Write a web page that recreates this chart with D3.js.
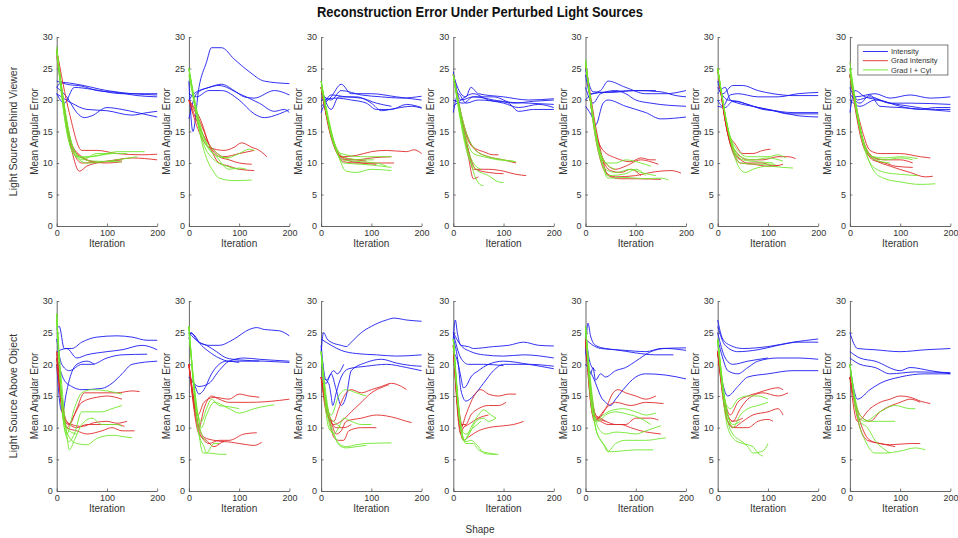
<!DOCTYPE html>
<html><head><meta charset="utf-8">
<script src="https://cdn.jsdelivr.net/npm/d3@7"></script>
<style>body{margin:0;background:#fff}svg{display:block;font-family:"Liberation Sans",Arial,Helvetica,sans-serif}</style>
</head><body><svg id="c" width="958" height="538"></svg>
<script>
// ---------- labels / ticks ----------
const chartTitle = "Reconstruction Error Under Perturbed Light Sources";
const rowLabels = ["Light Source Behind Viewer", "Light Source Above Object"];
const seriesNames = ["Intensity", "Grad Intensity", "Grad I + Cyl"];
const iterTicks = [0, 100, 200];
const errTicks = [0, 5, 10, 15, 20, 25, 30];
const xLabel = "Iteration", yLabel = "Mean Angular Error", shapeLabel = "Shape";

// ---------- data: [iteration, mean angular error] ----------
// Row 1: Light Source Behind Viewer
const behind1_intensity = [
 [[0,22],[10,22.8],[40,22.5],[100,21.5],[150,21],[200,20.8]],
 [[0,23],[20,22.5],[50,22.2],[80,21.5],[120,21.2],[160,20.7],[200,20.5]],
 [[0,21],[15,19.5],[35,22],[70,21.7],[130,21],[200,21]],
 [[0,22],[20,20.5],[40,18],[55,17.2],[70,17.5],[100,18.8],[130,18.5],[160,18],[200,17.3]],
 [[0,21],[30,19.5],[60,18.5],[100,18.3],[150,17.6],[180,18],[200,18.2]]];
const behind1_grad = [
 [[0,28],[25,18],[50,12],[80,12],[120,11.5],[170,11.3],[200,11.4]],
 [[0,28],[25,14],[50,10],[100,10.3],[150,10.8],[200,10.5]],
 [[0,28],[30,12],[45,8.7],[60,9.5],[80,10],[110,10.3],[130,10.5]],
 [[0,28],[30,13],[50,11],[70,10.2],[100,10],[130,10.2]],
 [[0,27],[35,12],[60,10.5],[80,10.2]]];
const behind1_cyl = [
 [[0,28.5],[20,15],[40,11],[70,11],[120,11.8],[175,11.8]],
 [[0,28],[30,13],[50,10.5],[80,11.5],[140,11.5]],
 [[0,27.5],[30,12],[60,10],[120,10.5],[160,11]],
 [[0,28],[25,14],[45,11],[70,10.3],[130,10.2]],
 [[0,28],[35,12],[50,10.8],[80,11.2],[110,11.5]]];

const behind2_intensity = [
 [[0,23],[8,15],[20,22],[35,26],[45,28.3],[65,28.3],[90,26.5],[120,24.5],[150,23],[200,22.6]],
 [[0,20],[10,21],[40,22],[65,22.5],[90,21.5],[110,20.5],[130,20.3],[170,21.5],[200,20.8]],
 [[0,17],[15,21],[40,22],[60,22.3],[100,21],[140,19.5],[170,18.2],[190,18.5],[200,18]],
 [[0,21],[15,20.5],[40,21.5],[65,21.5],[100,20],[130,17.8],[150,17.2],[180,17.8],[200,18.5]]];
const behind2_grad = [
 [[0,20],[20,15],[40,12.5],[70,12],[90,12.5],[105,13.2],[125,12.5],[140,12],[155,11]],
 [[0,20],[25,16],[45,12],[60,10],[80,9.5],[100,9],[130,8.8]],
 [[0,20],[25,16.5],[40,13],[60,11],[80,10.5],[100,10],[125,9.8]],
 [[0,20],[25,15],[50,12],[70,11],[100,11.5],[130,12]]];
const behind2_cyl = [
 [[0,25],[25,15],[50,12],[75,10.8],[100,11.5],[120,12.2],[130,12]],
 [[0,25],[25,14],[50,10.5],[75,9.5],[100,9]],
 [[0,25],[30,12],[50,8.5],[60,7.6],[90,7.2],[125,7.3]],
 [[0,25],[30,14],[55,11],[80,9],[100,9.2],[115,9]],
 [[0,24],[30,13.5],[60,11],[80,10.8]]];

const behind3_intensity = [
 [[0,19],[20,20.5],[40,22.5],[60,21],[100,21],[150,20.5],[200,20]],
 [[0,21],[20,20],[40,21.5],[80,20.8],[120,20.5],[160,20.3],[200,20.6]],
 [[0,22],[20,18.5],[35,20.5],[70,20.5],[100,19.5],[120,18.3],[150,18.7],[180,19],[200,18.7]],
 [[0,20],[30,20.3],[60,20],[90,19.5],[110,18.5],[140,18.5],[170,19.3],[200,18.8]],
 [[0,18],[20,20.8],[50,20.5],[80,20.3],[110,19.5],[140,19]]];
const behind3_grad = [
 [[0,22],[20,14],[40,11],[70,11.2],[100,11.8],[130,12],[170,11.8],[185,12.1],[200,11.5]],
 [[0,22],[25,13],[45,10.5],[70,10.5],[100,10.8],[140,11]],
 [[0,22],[25,13],[45,10.2],[70,10],[100,10],[145,10]],
 [[0,22],[30,12],[50,10.5],[80,10],[110,9.8]],
 [[0,22],[25,13.5],[40,11],[70,10.5],[90,10.3]]];
const behind3_cyl = [
 [[0,23],[25,13],[40,11.5],[80,11],[110,11],[140,11]],
 [[0,23],[30,12],[45,10],[80,9.8],[120,9.5],[140,9.3]],
 [[0,23],[35,11],[50,8.7],[70,8.5],[100,9],[140,8.8]],
 [[0,23],[25,13],[45,10.5],[80,10.2],[110,10],[130,9.5]],
 [[0,22],[30,12.5],[50,10.8],[80,10.5],[105,10.5]]];

const behind4_intensity = [
 [[0,24],[15,21],[25,20.5],[35,22],[50,21],[100,20.5],[150,20],[200,20.2]],
 [[0,24.5],[15,20],[40,20.5],[80,20.5],[120,19.5],[160,19.8],[200,20]],
 [[0,18],[10,21],[25,19.5],[50,20],[100,19.5],[130,18.8],[170,19.3],[200,18.8]],
 [[0,20],[20,19.5],[40,20.5],[80,20],[110,19.5],[130,18.2],[160,18.5],[200,18.5]],
 [[0,19],[15,20],[40,21],[70,20],[100,19.7],[150,19.5],[200,19.3]]];
const behind4_grad = [
 [[0,24],[25,15],[40,12.5],[60,11.8],[80,11.3],[90,11.3]],
 [[0,24],[25,14.5],[45,12],[70,11],[100,10.5],[125,10]],
 [[0,24],[30,12],[40,9],[70,9],[100,8.7],[125,8.2],[145,8]],
 [[0,24],[30,12],[45,9],[70,8.5],[100,8.3]],
 [[0,24],[30,11],[40,7.5],[50,7.8]]];
const behind4_cyl = [
 [[0,24],[25,15],[45,12],[70,11],[100,10.5],[125,10.2]],
 [[0,24],[25,14],[40,11.5],[60,11],[90,10.5],[120,10.3]],
 [[0,24],[30,11],[45,9],[70,8],[90,7],[100,6.9]],
 [[0,24],[35,10],[45,7.5],[55,6.5],[60,6.4]],
 [[0,24],[25,13],[40,10],[55,9]]];

const behind5_intensity = [
 [[0,24],[10,21],[30,21.5],[45,23],[80,22],[120,21],[160,21],[200,21.5]],
 [[0,25],[15,21.3],[50,21.2],[100,21.5],[150,21.3],[180,20.7],[200,20.5]],
 [[0,22],[15,19.5],[30,21],[60,21.5],[80,21],[100,20],[130,19.5],[200,19]],
 [[0,19],[15,17],[20,16],[35,19.5],[45,20],[80,19],[120,18],[150,17],[200,17.3]],
 [[0,20],[15,21],[50,21.3],[100,21.5],[140,21.5]]];
const behind5_grad = [
 [[0,26],[20,15],[35,12],[60,10.8],[90,10.2],[110,10.8],[130,10.5],[140,10.5]],
 [[0,26],[22,14],[40,10],[60,9],[80,9.5],[110,10.5],[130,10.2],[145,9.8]],
 [[0,26],[25,12],[40,8.5],[60,7.8],[100,8],[130,8.5],[170,8.8],[190,8.4]],
 [[0,26],[30,12],[45,8],[70,7.5],[100,7.5],[150,7.4]],
 [[0,26],[30,11.5],[50,8.8],[70,8.5],[90,9],[110,8]]];
const behind5_cyl = [
 [[0,26.5],[22,14],[40,10],[60,10],[80,10.5],[110,10],[130,9.5]],
 [[0,26],[25,12],[40,9],[60,8.5],[90,9],[110,8.5],[140,8]],
 [[0,26],[30,11],[45,7.6],[80,7.7],[120,7.5],[150,7.6],[165,7.3]],
 [[0,26],[30,11],[45,8],[80,8.3],[100,9],[120,8]],
 [[0,26],[25,13],[40,10],[60,9]]];

const behind6_intensity = [
 [[0,23],[10,21],[30,22.3],[50,22.3],[80,21.5],[110,21],[150,20.7],[200,20.7]],
 [[0,20],[10,19],[25,20.8],[40,21],[80,20.5],[120,20.5],[160,21],[200,21.2]],
 [[0,21],[15,22],[25,20],[40,19.5],[70,19],[100,18.5],[130,18],[160,17.5],[200,17.3]],
 [[0,19],[15,18.8],[30,19.8],[60,19.3],[90,18.5],[110,18.3],[140,17.8],[200,17.8]],
 [[0,22],[20,20],[40,19.8],[70,19],[100,18.5],[150,18],[200,18]]];
const behind6_grad = [
 [[0,25],[20,15],[35,13],[50,11.5],[70,11.5],[90,12],[105,12.2]],
 [[0,25],[22,14],[40,11.5],[60,10.5],[90,10.5],[120,11],[140,11],[155,10.7]],
 [[0,25],[25,13],[40,11],[60,10],[90,10],[110,9.5],[130,9.8]],
 [[0,25],[25,13],[45,10],[70,9.8],[100,9.5],[120,9.6]],
 [[0,25],[22,14],[30,12],[45,10.5]]];
const behind6_cyl = [
 [[0,25],[22,15],[40,12],[60,11],[100,11],[120,11.3],[135,10.8]],
 [[0,25],[25,14],[45,11],[70,10.5],[100,10.8],[130,10.3]],
 [[0,25],[30,12],[45,9],[55,8.5],[70,9],[100,9.5],[130,9.3],[150,9.2]],
 [[0,25],[28,13],[45,10],[80,9.8],[115,9.8]],
 [[0,25],[30,12.5],[50,10.5],[80,10.2],[110,10]]];

const behind7_intensity = [
 [[0,22],[10,20.5],[50,21],[80,20.3],[120,20.8],[160,20.3],[200,20.5]],
 [[0,24],[15,20],[40,20.5],[80,19.5],[120,19.5],[200,19.3]],
 [[0,18],[10,21.5],[30,20.5],[60,20],[100,19],[140,18.5],[170,18.8],[200,18.8]],
 [[0,21],[20,19.5],[40,20.8],[60,19],[100,18.8],[150,18.5],[200,18.2]],
 [[0,20],[20,19],[50,20],[80,19.5],[120,19],[170,18.5],[200,18.5]]];
const behind7_grad = [
 [[0,24],[25,15],[40,12],[60,11.5],[100,11.5],[140,11],[160,10.8]],
 [[0,24],[25,14],[45,11],[70,10.5],[100,10.5],[125,10]],
 [[0,24],[28,13],[45,10.5],[70,10],[90,9.5],[125,9.3]],
 [[0,24],[30,12],[50,10.5],[80,9.5],[120,8.5],[150,7.8],[165,7.9]],
 [[0,24],[28,13],[45,11],[60,10.5]]];
const behind7_cyl = [
 [[0,26],[25,14],[45,11],[70,10.8],[100,11],[135,10.7]],
 [[0,25],[28,13],[45,11],[70,10.5],[100,10.8],[125,10.5]],
 [[0,25],[30,12],[45,9.5],[70,8.5],[100,8.2],[135,8]],
 [[0,25],[35,11],[50,8.5],[70,7.5],[100,7],[140,6.6],[170,6.7]],
 [[0,24],[28,13],[50,10.5],[80,10]]];

// Row 2: Light Source Above Object
const above1_intensity = [
 [[0,25.5],[5,26],[15,22.5],[30,22.5],[50,23.5],[80,24.3],[120,24.5],[150,24.3],[180,23.8],[200,23.8]],
 [[0,22],[20,22.5],[40,21],[60,21.5],[100,22],[130,22.3],[170,23],[200,22.3]],
 [[0,24],[10,20],[25,19],[50,20],[70,20],[100,21],[130,21.5],[180,21.6]],
 [[0,21],[15,17.5],[30,16.5],[50,16],[90,16.2],[110,17],[130,18.5],[150,20],[200,20.5]],
 [[0,20],[8,13],[12,12.4],[18,15],[25,17.5],[40,20],[60,20.5],[75,20]]];
const above1_grad = [
 [[0,22],[15,11],[25,10.5],[40,13],[55,15.5],[80,15.5],[120,15.5],[150,15.8],[165,15.7]],
 [[0,22],[15,12],[20,10],[35,12],[50,14],[80,14.8],[100,15],[130,14.5]],
 [[0,21],[18,11],[30,10.5],[50,10.2],[75,10.8],[100,11],[120,10.7],[140,11]],
 [[0,20],[20,10],[40,9.5],[60,9],[90,9.5],[110,10],[130,9.5],[155,9.5]],
 [[0,21],[20,11],[40,10],[60,10.5],[90,10.5],[120,10.5],[135,10.2]]];
const above1_cyl = [
 [[0,28],[12,12],[20,9],[35,13],[50,15.5],[70,16],[100,15.8],[130,15.3]],
 [[0,28],[15,10],[25,7.8],[35,9],[50,12.5],[90,12.5],[110,13],[130,13.5]],
 [[0,27],[20,9],[25,6.5],[35,8],[50,10.5],[70,11.5],[90,10.5],[120,10.5],[130,10.2]],
 [[0,27],[15,11],[25,8.5],[40,7.5],[60,7.3],[80,8.3],[110,8.8],[140,8.5],[150,8.4]],
 [[0,28],[15,11],[25,9.5],[40,9]]];

const above2_intensity = [
 [[0,24],[5,25],[10,24.5],[20,23.5],[40,23],[60,23],[90,24],[120,25.5],[135,25.8],[150,25.5],[180,25.3],[200,24.5]],
 [[0,25],[8,24.8],[25,23],[40,22],[60,21],[80,20.5],[100,20.5],[140,20.5]],
 [[0,25],[20,23.5],[35,23],[55,22],[75,21],[100,20.7],[150,20.5],[200,20.3]],
 [[0,18],[10,17],[20,16.5],[40,17],[60,19],[80,20.5],[110,21],[140,20.8],[200,20.5]],
 [[0,18],[10,17],[20,15.3],[30,16],[45,18.5],[60,20],[75,20.5],[100,20.3]]];
const above2_grad = [
 [[0,20],[12,13],[18,12],[30,14],[50,14.8],[80,14.5],[100,15.3],[120,15],[140,14.8]],
 [[0,20],[15,12],[20,10],[30,13],[45,15],[60,14.5],[80,14],[120,14],[180,14.3],[200,14.5]],
 [[0,20],[18,10],[30,8],[40,7.5],[60,8],[80,8],[110,9],[135,9.2]],
 [[0,20],[20,9],[35,8],[50,7],[70,7.8],[100,7.5],[130,7.2],[145,7.7]],
 [[0,20],[20,10],[30,8.5],[50,8],[70,7.8]]];
const above2_cyl = [
 [[0,26],[15,13],[25,11],[35,13],[45,14.5],[60,13.5],[80,13.3],[100,13]],
 [[0,26],[18,12],[25,10],[35,12],[50,14],[80,13],[100,12.3],[130,13],[160,13.5],[170,13.6]],
 [[0,26],[20,9],[28,6],[40,6],[60,5.8],[75,5.8]],
 [[0,26],[20,9],[30,7],[35,6],[50,7.5],[60,7.5]],
 [[0,25],[20,11],[25,9],[35,7.8]]];

const above3_intensity = [
 [[0,22],[5,25],[12,24],[20,23.5],[40,23],[50,22.8],[60,23.5],[80,25],[100,26],[130,27],[145,27.3],[170,27],[200,26.8]],
 [[0,24],[20,23],[40,22.2],[70,21.7],[110,21.5],[150,21.3],[200,21.5]],
 [[0,18],[10,17],[20,18.5],[30,16],[40,13.5],[50,15],[60,19],[90,20.3],[120,20.8],[150,20.2],[180,19.8],[200,19.7]],
 [[0,18],[15,17],[20,15],[23,13.5],[30,15.5],[40,18],[55,19.3],[90,19.7],[130,20],[170,19.5],[200,19]],
 [[0,23],[10,17.5],[25,19],[32,18.5],[45,20]]];
const above3_grad = [
 [[0,18],[12,12],[25,11],[35,13],[50,15.5],[60,16],[80,15.5],[100,16],[120,16.5],[140,17],[160,16.5],[170,16]],
 [[0,18],[15,11.5],[25,10.5],[40,11],[60,12.5],[80,14],[100,15.5],[125,16.5],[135,16.8]],
 [[0,18],[20,11],[30,9],[40,9.5],[50,11],[80,11.5],[110,12],[150,11.5],[170,11],[180,10.8]],
 [[0,18],[20,10],[25,8.5],[35,8],[45,8],[55,9.5],[80,10],[110,10]],
 [[0,18],[20,11],[30,10],[45,10],[60,10.5]]];
const above3_cyl = [
 [[0,22],[10,14],[20,12],[35,15],[50,16],[70,15.5],[90,15]],
 [[0,22],[15,11],[25,9],[35,10],[45,11.5],[60,11],[80,10.5],[100,10.5]],
 [[0,22],[15,10],[25,9],[35,7.5],[50,7],[70,7.3],[90,7.5],[140,7.6]],
 [[0,22],[18,11],[30,8],[40,7],[50,6.8],[70,7],[90,7.2]],
 [[0,22],[15,12],[25,11],[40,10]]];

const above4_intensity = [
 [[0,24],[4,27],[8,25],[15,23],[30,22.8],[40,22.5],[80,22.8],[110,23],[140,23.5],[170,23],[200,22.9]],
 [[0,25],[15,23],[35,22],[60,21.5],[100,21.3],[140,21.5],[200,21]],
 [[0,22],[10,20],[15,18],[20,16.3],[25,16.5],[35,18],[50,19],[70,20],[100,20.5],[150,20],[200,19.3]],
 [[0,24],[10,20],[15,16],[25,14.2],[40,15],[60,17],[80,19],[100,20],[150,20],[200,19.7]],
 [[0,25],[15,21],[30,20],[60,20],[100,19.8]]];
const above4_grad = [
 [[0,23],[15,10],[25,12],[35,14],[45,15.5],[55,16],[70,15.3],[90,15],[110,15.3],[125,15.3]],
 [[0,23],[15,10.5],[25,10.5],[35,12],[50,13],[70,13.5],[90,13.5],[105,14]],
 [[0,23],[15,9],[20,8],[30,8.5],[50,9.5],[70,10],[100,10.3],[120,10.5],[140,11]],
 [[0,23],[15,9],[20,10],[30,10.5],[50,11.5],[70,12]],
 [[0,23],[15,11],[20,10],[25,10.5]]];
const above4_cyl = [
 [[0,24],[15,10],[22,8],[35,10],[50,12],[60,12.8],[75,12],[85,11.5]],
 [[0,24],[15,10],[22,8],[35,9.5],[45,11],[60,11.5],[70,11],[85,11.5]],
 [[0,24],[20,8],[25,7.8],[35,8],[50,7],[60,6],[75,5.8],[90,5.8]],
 [[0,24],[18,9],[25,7.5],[40,7.5],[50,6.5],[70,6],[85,5.8]],
 [[0,24],[15,10],[25,9],[40,10],[55,11]]];

const above5_intensity = [
 [[0,22],[5,26.5],[10,24.5],[20,23],[40,22.5],[80,22.2],[120,22],[150,22.5],[200,22.6]],
 [[0,24],[15,23],[30,22.5],[60,22.3],[100,21.8],[140,21.5],[175,21.5]],
 [[0,22],[10,18.5],[15,19.5],[20,17.5],[30,18.5],[40,18],[60,19],[80,19.5],[100,20.5],[130,22],[160,22.5],[200,22.2]],
 [[0,20],[15,18],[25,16],[30,15],[40,14],[50,13.5],[60,14.5],[75,16],[100,18],[120,18.5],[160,18.3],[200,17.7]],
 [[0,25],[10,20],[20,19]]];
const above5_grad = [
 [[0,24],[15,12],[25,11.5],[40,13],[55,15.5],[65,16],[80,15.5],[100,15],[120,14.5],[140,15]],
 [[0,24],[18,11],[25,11.5],[40,13],[60,14],[90,13.5],[120,14],[155,13.8]],
 [[0,24],[20,12],[25,11.5],[40,11],[60,10.5],[80,10.5],[100,11.5],[130,11.5],[145,11.2]],
 [[0,24],[20,11.5],[30,11],[45,10.5],[70,10.5],[90,10],[110,9.5],[130,9.2],[150,9]],
 [[0,24],[20,12],[30,11.5],[40,11]]];
const above5_cyl = [
 [[0,26],[15,12],[20,11],[35,12],[55,12.8],[75,13],[100,12.5],[120,12],[140,12.3]],
 [[0,26],[15,12],[25,11],[40,12],[60,12.5],[90,12],[100,11.8],[120,11],[130,10.5]],
 [[0,26],[25,10],[40,9],[60,9.3],[80,9.2],[100,9],[120,9.5],[150,10.3]],
 [[0,26],[20,10],[30,8],[40,7],[45,6.3],[60,7.5],[80,8],[120,8],[150,8.3],[160,8.4]],
 [[0,26],[20,10],[35,7.5],[45,6.2],[70,6.3],[100,6.5],[135,6.5]]];

const above6_intensity = [
 [[0,27],[10,24],[25,23],[50,22.5],[100,22.8],[150,23.5],[200,24]],
 [[0,26],[15,23],[40,22],[80,22.3],[120,23],[160,23.5],[200,23.5]],
 [[0,24],[10,21],[20,19],[40,18.5],[60,19.5],[80,20.5],[120,21],[160,21],[200,20.8]],
 [[0,22],[10,17],[20,15],[40,16.5],[60,18],[100,18.5],[150,19],[200,19]],
 [[0,25],[15,21],[30,20],[60,20.5],[100,21]]];
const above6_grad = [
 [[0,22],[15,14],[25,12],[40,14],[60,15],[80,15.5],[100,16],[120,16.3],[130,16]],
 [[0,22],[20,12],[30,11],[45,13],[60,14.5],[90,15.5],[120,15],[140,15.5]],
 [[0,22],[20,11],[30,10],[50,11],[70,12],[100,12.5],[120,13],[130,12]],
 [[0,22],[20,11],[35,10],[60,10],[80,11],[100,11.3],[110,11]],
 [[0,22],[20,12],[30,11],[50,11.5]]];
const above6_cyl = [
 [[0,24],[15,14],[25,13],[40,14.5],[60,15],[80,15],[100,14.5]],
 [[0,24],[20,12],[30,10],[45,12],[60,13],[80,13.5],[100,14]],
 [[0,24],[20,11],[30,9],[45,8],[60,7],[70,6],[90,6.3],[100,7.5]],
 [[0,24],[20,10],[35,8],[50,7.5],[70,7],[80,6],[90,5.5]],
 [[0,24],[20,12],[30,10.5],[45,11]]];

const above7_intensity = [
 [[0,25],[15,22.5],[50,22.3],[100,22],[150,22.3],[200,22.5]],
 [[0,22],[20,21],[50,20.5],[100,19],[120,19.5],[160,19],[200,18.5]],
 [[0,20],[8,16],[15,14.5],[40,16],[60,17],[100,18],[150,18.5],[200,18.5]],
 [[0,21],[20,20],[50,19.5],[80,18.5],[130,18.8],[200,18.7]]];
const above7_grad = [
 [[0,18],[15,11],[40,13],[60,14],[80,14.5],[100,15],[120,14.8],[140,14.2],[160,13.8]],
 [[0,18],[20,12],[40,11],[60,12.5],[100,14],[120,14.5],[140,14]],
 [[0,18],[20,11],[30,9],[40,8],[60,7.5],[80,7.3],[120,7.5],[140,7.5]],
 [[0,18],[20,10],[35,8],[60,7.5],[90,7]]];
const above7_cyl = [
 [[0,20],[15,12],[30,11],[60,12.5],[90,13.5],[120,13],[130,13]],
 [[0,20],[20,10],[30,8],[50,6],[70,6],[100,6.3],[130,6.8],[150,6.5]],
 [[0,20],[20,11],[35,10],[50,8],[70,6.5],[80,6]],
 [[0,20],[20,12],[40,11],[70,11],[90,11]]];

const panelData = [
 [[behind1_intensity,behind1_grad,behind1_cyl],[behind2_intensity,behind2_grad,behind2_cyl],
  [behind3_intensity,behind3_grad,behind3_cyl],[behind4_intensity,behind4_grad,behind4_cyl],
  [behind5_intensity,behind5_grad,behind5_cyl],[behind6_intensity,behind6_grad,behind6_cyl],
  [behind7_intensity,behind7_grad,behind7_cyl]],
 [[above1_intensity,above1_grad,above1_cyl],[above2_intensity,above2_grad,above2_cyl],
  [above3_intensity,above3_grad,above3_cyl],[above4_intensity,above4_grad,above4_cyl],
  [above5_intensity,above5_grad,above5_cyl],[above6_intensity,above6_grad,above6_cyl],
  [above7_intensity,above7_grad,above7_cyl]]
];

// ---------- layout ----------
const colors = ["#1c1cf2", "#e02a2a", "#70e62c"];
const axisColor = "#555", textColor = "#333";
const colLeft0 = 56.7, colStep = 132.2, plotW = 100.5;
const rowBox = [{top: 37, bottom: 226}, {top: 301, bottom: 491}];

const svg = d3.select("#c");
svg.append("text").attr("x", 480).attr("y", 17).attr("text-anchor", "middle")
  .attr("font-size", 15).attr("font-weight", "bold").attr("fill", "#111")
  .attr("textLength", 326).attr("lengthAdjust", "spacingAndGlyphs").text(chartTitle);

svg.append("text").attr("x", 480).attr("y", 533).attr("text-anchor", "middle")
  .attr("font-size", 10).attr("fill", textColor).text(shapeLabel);

const line = d3.line().curve(d3.curveMonotoneX);

rowBox.forEach((rb, r) => {
  svg.append("text")
    .attr("transform", `translate(17,${(rb.top + rb.bottom) / 2}) rotate(-90)`)
    .attr("text-anchor", "middle").attr("font-size", 10.5).attr("fill", textColor)
    .text(rowLabels[r]);
  for (let c = 0; c < 7; c++) {
    const left = colLeft0 + c * colStep;
    const x = d3.scaleLinear().domain([0, 200]).range([left, left + plotW]);
    const y = d3.scaleLinear().domain([0, 30]).range([rb.bottom, rb.top]);
    const g = svg.append("g");
    const gx = g.append("g").attr("transform", `translate(0,${rb.bottom})`)
      .call(d3.axisBottom(x).tickValues(iterTicks).tickSizeInner(-2.5).tickSizeOuter(0).tickPadding(4));
    const gy = g.append("g").attr("transform", `translate(${left},0)`)
      .call(d3.axisLeft(y).tickValues(errTicks).tickSizeInner(-2.5).tickSizeOuter(0).tickPadding(4));
    [gx, gy].forEach(a => {
      a.select(".domain").attr("stroke", axisColor).attr("stroke-width", 0.9);
      a.selectAll(".tick line").attr("stroke", axisColor).attr("stroke-width", 0.8);
      a.selectAll(".tick text").attr("fill", textColor).attr("font-size", 9)
        .attr("font-family", '"Liberation Sans",Arial,sans-serif');
    });
    g.append("text").attr("x", left + plotW / 2).attr("y", rb.bottom + 21)
      .attr("text-anchor", "middle").attr("font-size", 10).attr("fill", textColor).text(xLabel);
    g.append("text")
      .attr("transform", `translate(${left - 19},${(rb.top + rb.bottom) / 2}) rotate(-90)`)
      .attr("text-anchor", "middle").attr("font-size", 10).attr("fill", textColor).text(yLabel);

    panelData[r][c].forEach((series, s) => {
      g.append("g").selectAll("path").data(series).join("path")
        .attr("d", d => line(d.map(p => [x(p[0]), y(p[1])])))
        .attr("fill", "none").attr("stroke", colors[s]).attr("stroke-width", 0.9)
        .attr("stroke-linejoin", "round");
    });

    if (r === 0 && c === 6) {
      const lg = g.append("g");
      lg.append("rect").attr("x", left + 8).attr("y", 45).attr("width", 90).attr("height", 30)
        .attr("fill", "#fff").attr("stroke", "#444").attr("stroke-width", 0.7);
      seriesNames.forEach((nm, i) => {
        const yy = 51.5 + i * 9.2;
        lg.append("line").attr("x1", left + 13).attr("x2", left + 38).attr("y1", yy).attr("y2", yy)
          .attr("stroke", colors[i]).attr("stroke-width", 0.9);
        lg.append("text").attr("x", left + 41).attr("y", yy + 2.6).attr("font-size", 7.5)
          .attr("fill", textColor).text(nm);
      });
    }
  }
});
</script></body></html>
